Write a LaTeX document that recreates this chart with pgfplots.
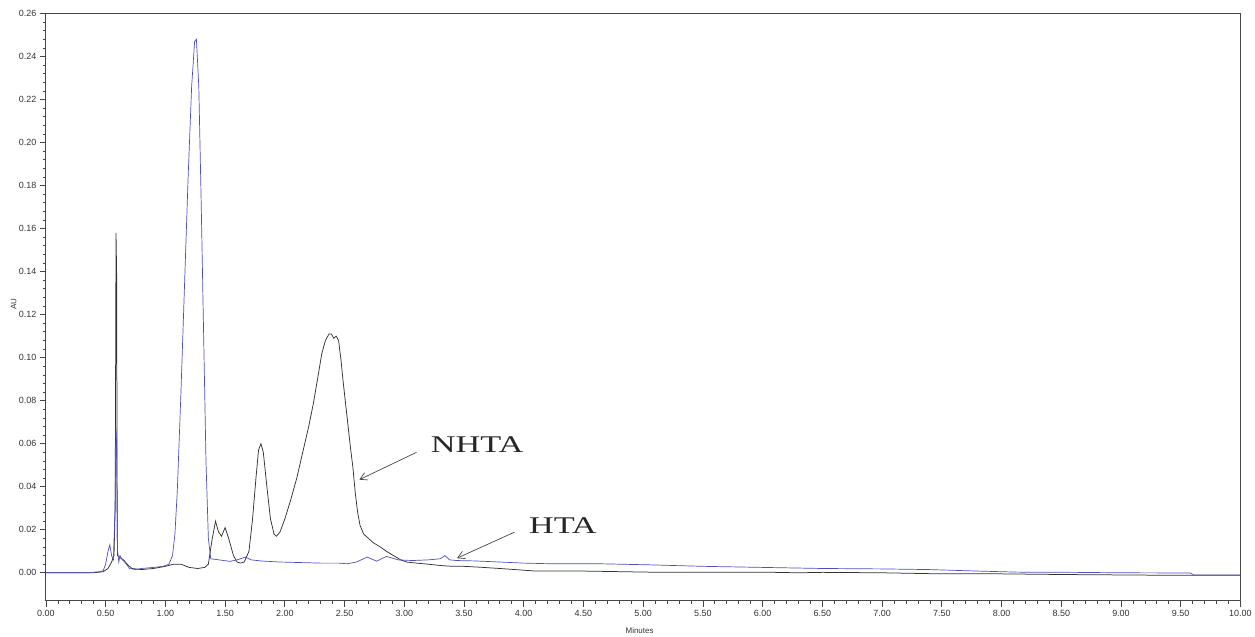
\documentclass[border=0pt]{standalone}
\usepackage{fontspec}
\setmainfont{Liberation Sans}
\newfontfamily\annot[FakeStretch=1.43]{Liberation Serif}
\usepackage{pgfplots}
\pgfplotsset{compat=1.18}
\usetikzlibrary{arrows.meta}

\definecolor{htablue}{RGB}{78,78,190}
\definecolor{nhtagray}{RGB}{50,50,50}
\definecolor{frame}{RGB}{70,70,70}

\begin{document}
\begin{tikzpicture}
\begin{axis}[
  scale only axis,
  width=1197pt, height=588.5pt,
  xmin=0, xmax=10, ymin=-0.013, ymax=0.26,
  xtick={0,0.5,...,10}, ytick={0,0.02,...,0.26},
  minor x tick num=4, minor y tick num=4,
  tick align=outside, tick pos=left,
  major tick length=6pt, minor tick length=3pt,
  every tick/.style={frame, line width=0.7pt},
  axis line style={frame, line width=1pt},
  /pgf/number format/.cd, fixed, fixed zerofill, precision=2, assume math mode=true,
  /pgfplots/.cd,
  scaled y ticks=false,
  tick label style={font=\fontsize{9}{9}\selectfont, text=black!80},
  xlabel={Minutes}, ylabel={AU},
  label style={font=\fontsize{8}{8}\selectfont, text=black!80},
  xlabel style={at={(axis description cs:0.497,-0.051)}, anchor=center},
  ylabel style={at={(axis description cs:-0.027,0.505)}, anchor=center},
  clip=false,
]
% NHTA (black trace)
\addplot[nhtagray, line width=0.75pt] coordinates {
(0,0) (0.40,0) (0.48,0.0005) (0.52,0.002) (0.55,0.005) (0.57,0.008) (0.58,0.03)
(0.587,0.158) (0.592,0.14) (0.597,0.02) (0.60,0.008) (0.62,0.007) (0.65,0.006)
(0.68,0.004) (0.72,0.002) (0.80,0.0015) (0.90,0.002) (1.00,0.003) (1.07,0.004)
(1.13,0.004) (1.20,0.0025) (1.27,0.002) (1.33,0.0025) (1.36,0.004) (1.39,0.015)
(1.42,0.024) (1.445,0.019) (1.47,0.017) (1.50,0.021) (1.53,0.016) (1.57,0.008)
(1.60,0.005) (1.63,0.0045) (1.66,0.005) (1.70,0.010) (1.73,0.025) (1.76,0.045)
(1.78,0.057) (1.80,0.060) (1.82,0.056) (1.85,0.040) (1.88,0.025) (1.91,0.018)
(1.93,0.017) (1.96,0.019) (2.00,0.025) (2.05,0.034) (2.10,0.044) (2.15,0.056)
(2.20,0.068) (2.24,0.079) (2.28,0.092) (2.31,0.102) (2.34,0.108) (2.37,0.111)
(2.39,0.111) (2.41,0.109) (2.43,0.110) (2.45,0.108) (2.47,0.099) (2.49,0.088)
(2.52,0.073) (2.55,0.058) (2.57,0.049) (2.59,0.037) (2.61,0.028) (2.63,0.022)
(2.66,0.018) (2.74,0.014) (2.80,0.012) (2.85,0.010) (2.91,0.008) (2.97,0.006)
(3.02,0.005) (3.10,0.0045) (3.20,0.004) (3.30,0.0034) (3.40,0.003) (3.50,0.003)
(3.63,0.0026) (3.80,0.002) (4.10,0.0008) (4.50,0.0008) (5.05,0.0003) (5.50,0.0003)
(6.00,0.0003) (6.30,0.0) (6.50,0.0002) (7.00,0.0) (7.30,-0.0003) (7.50,-0.0005)
(8.00,-0.0005) (8.50,-0.0008) (9.00,-0.001) (9.50,-0.0012) (10,-0.0012)
};
% HTA (blue trace)
\addplot[htablue, line width=0.7pt] coordinates {
(0,0) (0.35,0) (0.40,0.0003) (0.45,0.0005) (0.48,0.001) (0.50,0.004) (0.52,0.010)
(0.535,0.013) (0.55,0.008) (0.565,0.006) (0.578,0.028) (0.587,0.067) (0.592,0.06)
(0.597,0.02) (0.60,0.01) (0.61,0.005) (0.62,0.008) (0.64,0.006) (0.66,0.005)
(0.70,0.002) (0.75,0.0015) (0.80,0.002) (0.90,0.0025) (0.98,0.003) (1.03,0.004)
(1.06,0.008) (1.08,0.018) (1.10,0.038) (1.13,0.083) (1.16,0.133) (1.19,0.183)
(1.22,0.226) (1.245,0.247) (1.26,0.248) (1.28,0.226) (1.30,0.172) (1.32,0.112)
(1.34,0.052) (1.36,0.016) (1.38,0.0065) (1.45,0.006) (1.54,0.0053) (1.60,0.006)
(1.67,0.0073) (1.72,0.006) (1.80,0.0055) (1.96,0.005) (2.10,0.0048) (2.30,0.0045)
(2.45,0.0045) (2.52,0.0042) (2.60,0.005) (2.69,0.0073) (2.77,0.0054) (2.85,0.0076)
(2.95,0.006) (3.07,0.0057) (3.20,0.006) (3.30,0.0065) (3.34,0.008) (3.38,0.006)
(3.44,0.0057) (3.60,0.0055) (3.80,0.005) (4.00,0.0045) (4.22,0.0042) (4.63,0.0042)
(5.05,0.0037) (5.50,0.003) (6.00,0.0025) (6.50,0.002) (7.00,0.0018) (7.39,0.0015)
(7.80,0.0008) (8.14,0.0003) (8.60,0.0002) (9.00,0.0) (9.58,-0.0001) (9.61,-0.001)
(10,-0.001)
};
% annotations
\draw[frame, line width=0.7pt, -{Straight Barb[length=7pt,width=8pt]}]
  (axis cs:3.103,0.0560) -- (axis cs:2.624,0.0433);
\draw[frame, line width=0.7pt, -{Straight Barb[length=7pt,width=8pt]}]
  (axis cs:3.923,0.0189) -- (axis cs:3.442,0.0068);
\node[font=\annot\fontsize{24}{24}\selectfont, text=black!85] at (axis cs:3.610,0.0594) {NHTA};
\node[font=\annot\fontsize{24}{24}\selectfont, text=black!85] at (axis cs:4.328,0.0218) {HTA};
\end{axis}
\path ([shift={(-46pt,-35pt)}]current axis.south west) rectangle ([shift={(12pt,13.5pt)}]current axis.north east);
\end{tikzpicture}
\end{document}
